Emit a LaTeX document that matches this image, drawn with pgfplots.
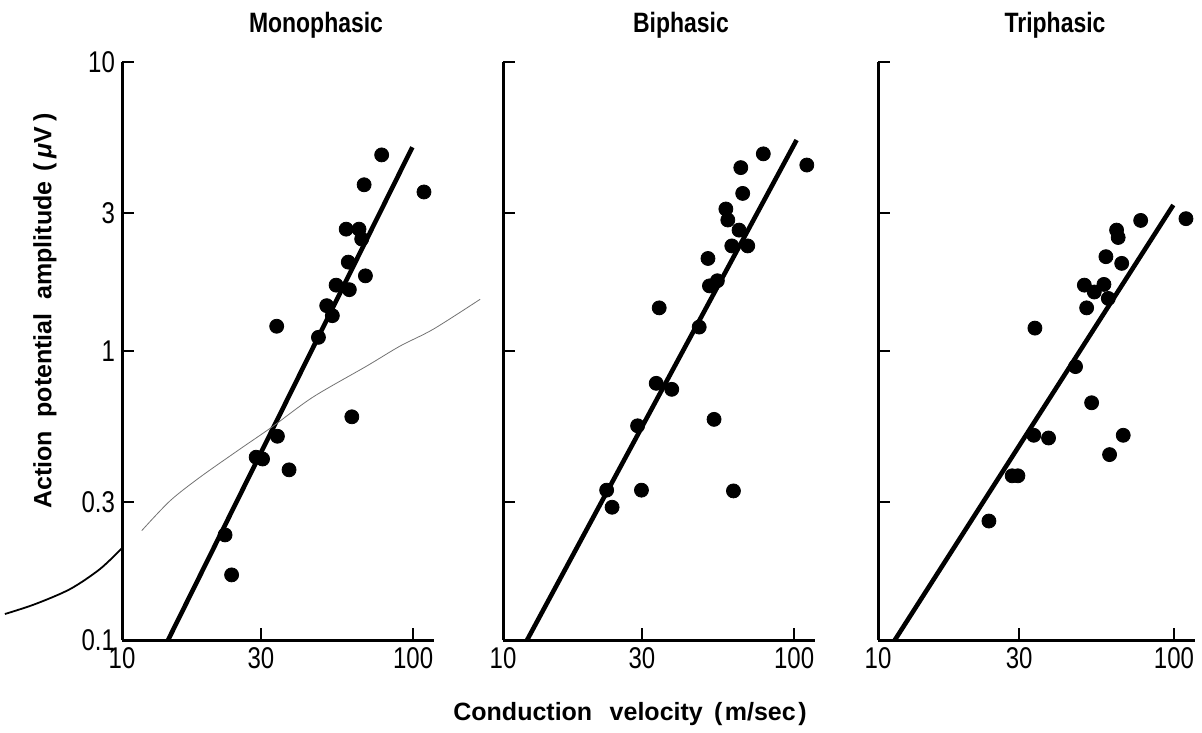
\documentclass[border=0pt]{standalone}
\usepackage{pgfplots}
\pgfplotsset{compat=1.18}
\usepackage{fontspec}
\setmainfont{Liberation Sans}
\newfontfamily\titlefont[FakeStretch=0.82]{Liberation Sans}
\newfontfamily\tickfont[FakeStretch=0.8]{Liberation Sans}

\begin{document}
\begin{tikzpicture}
\useasboundingbox (0,0) rectangle (601pt,366pt);

% Monophasic
\begin{axis}[scale only axis, height=289pt, width=156pt,
  xmode=log, ymode=log, xmin=10, xmax=118, ymin=0.1, ymax=10,
  axis x line*=bottom, axis y line*=left,
  axis line style={line width=1.5pt},
  xtick={10,30,100}, ytick={0.1,0.3,1,3,10},
  xticklabels={10,30,100}, yticklabels={0.1,0.3,1,3,10},
  xminorticks=false, yminorticks=false,
  tick align=inside, major tick length=6pt,
  major tick style={black, line width=1.2pt},
  tick label style={font=\tickfont\fontsize{15}{15}\selectfont},
  anchor=south west, at={(61pt,46pt)}, clip=false]
\addplot[only marks, mark=*, mark size=3.5pt, black, mark options={fill=black}] coordinates {
(78.0,4.77) (67.9,3.76) (109,3.55) (58.9,2.64) (65.2,2.64) (66.6,2.44)
(59.9,2.03) (68.6,1.82) (54.4,1.69) (60.4,1.63) (50.5,1.435) (52.8,1.325)
(34.0,1.218) (47.3,1.115) (61.6,0.592) (34.2,0.507) (28.9,0.429) (30.4,0.423)
(37.5,0.388) (22.6,0.231) (23.8,0.168)};
\addplot[black, line width=2.3pt, no marks] coordinates {(14.4,0.1) (99.4,5.07)};
\addplot[black, line width=0.9pt, smooth, no marks] coordinates {
(3.96,0.123) (5.02,0.133) (6.63,0.150) (8.40,0.176) (10,0.208)};
\addplot[black!55, line width=0.4pt, smooth, no marks] coordinates {
(11.69,0.239) (14.62,0.303) (18.54,0.366) (25.44,0.458) (32.77,0.546)
(45.33,0.693) (69.3,0.887) (90.2,1.04) (117.4,1.19) (170,1.51)};
\end{axis}

% Biphasic
\begin{axis}[scale only axis, height=289pt, width=156pt,
  xmode=log, ymode=log, xmin=10, xmax=118, ymin=0.1, ymax=10,
  axis x line*=bottom, axis y line*=left,
  axis line style={line width=1.5pt},
  xtick={10,30,100}, ytick={0.1,0.3,1,3,10},
  xticklabels={10,30,100}, yticklabels={,,,,},
  xminorticks=false, yminorticks=false,
  tick align=inside, major tick length=6pt,
  major tick style={black, line width=1.2pt},
  tick label style={font=\tickfont\fontsize{15}{15}\selectfont},
  anchor=south west, at={(251.5pt,46pt)}]
\addplot[only marks, mark=*, mark size=3.5pt, black, mark options={fill=black}] coordinates {
(78.4,4.81) (110.6,4.40) (65.6,4.31) (66.6,3.51) (58.3,3.10) (59.2,2.84)
(64.7,2.62) (61.1,2.31) (69.3,2.31) (50.6,2.09) (51.2,1.68) (54.5,1.75)
(34.4,1.41) (47.2,1.21) (33.6,0.773) (38.0,0.737) (53.1,0.580) (29.0,0.551)
(22.7,0.330) (29.9,0.330) (61.9,0.328) (23.7,0.288)};
\addplot[black, line width=2.3pt, no marks] coordinates {(12.1,0.1) (102,5.37)};
\end{axis}

% Triphasic
\begin{axis}[scale only axis, height=289pt, width=158.6pt,
  xmode=log, ymode=log, xmin=10, xmax=118, ymin=0.1, ymax=10,
  axis x line*=bottom, axis y line*=left,
  axis line style={line width=1.5pt},
  xtick={10,30,100}, ytick={0.1,0.3,1,3,10},
  xticklabels={10,30,100}, yticklabels={,,,,},
  xminorticks=false, yminorticks=false,
  tick align=inside, major tick length=6pt,
  major tick style={black, line width=1.2pt},
  tick label style={font=\tickfont\fontsize{15}{15}\selectfont},
  anchor=south west, at={(439pt,46pt)}]
\addplot[only marks, mark=*, mark size=3.5pt, black, mark options={fill=black}] coordinates {
(109.8,2.87) (77.2,2.83) (64.0,2.62) (64.8,2.47) (58.9,2.12) (66.6,2.01)
(49.8,1.69) (58.0,1.70) (53.8,1.60) (60.0,1.52) (50.7,1.41) (33.9,1.20)
(46.5,0.883) (52.7,0.662) (33.6,0.511) (37.7,0.500) (67.4,0.511) (60.6,0.438)
(28.4,0.370) (29.7,0.370) (23.7,0.258)};
\addplot[black, line width=2.3pt, no marks] coordinates {(11.4,0.1) (99.5,3.20)};
\end{axis}

\node[anchor=base, font=\titlefont\bfseries\fontsize{14}{14}\selectfont] at (158pt,349.5pt) {Monophasic};
\node[anchor=base, font=\titlefont\bfseries\fontsize{14}{14}\selectfont] at (340.5pt,349.5pt) {Biphasic};
\node[anchor=base, font=\titlefont\bfseries\fontsize{14}{14}\selectfont] at (527.5pt,349.5pt) {Triphasic};
\node[rotate=90, font=\bfseries\fontsize{12.5}{12.5}\selectfont] at (22.5pt,210.5pt)
  {Action\hspace{0.55em}potential\hspace{0.55em}amplitude\hspace{0.4em}(\hspace{0.2em}\textit{μ}V\hspace{0.2em})};
\node[font=\bfseries\fontsize{12.5}{12.5}\selectfont] at (315pt,9pt)
  {Conduction\hspace{0.7em}velocity\hspace{0.45em}(\hspace{0.1em}m/sec\hspace{0.1em})};
\end{tikzpicture}
\end{document}
